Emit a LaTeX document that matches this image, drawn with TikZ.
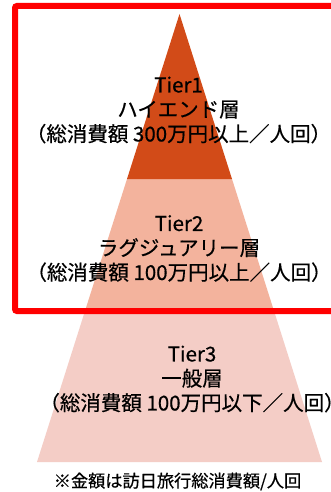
\documentclass[tikz,border=0pt]{standalone}
\usepackage{fontspec}
\setmainfont[FakeBold=0.5]{Noto Sans CJK JP}
\definecolor{tieronec}{HTML}{D24B18}
\definecolor{tiertwoc}{HTML}{F3B39D}
\definecolor{tierthreec}{HTML}{F4CDC6}
\definecolor{framered}{HTML}{FF0000}
\begin{document}
\begin{tikzpicture}[x=1pt,y=-1pt,
  tiertext/.style={align=center,font=\fontsize{20.5}{24.5}\selectfont,inner sep=0pt},
  notetext/.style={font=\fontsize{17.2}{20}\selectfont,inner sep=0pt}]
\useasboundingbox (0,0) rectangle (331,492);
\clip (0,0) rectangle (331,492);
\fill[white] (0,0) rectangle (331,492);
% pyramid
\fill[tierthreec] (85.3,310) -- (273.7,310) -- (322,462) -- (37,462) -- cycle;
\fill[tiertwoc] (127,179) -- (232,179) -- (273.7,310) -- (85.3,310) -- cycle;
\fill[tieronec] (179.5,14) -- (232,179) -- (127,179) -- cycle;
% frame
\draw[framered,line width=6pt,rounded corners=2pt] (15,6) rectangle (350,311);
% texts
\node[tiertext] (t1) at (178.5,110) {Tier1\\ハイエンド層\\（総消費額 300万円以上／人回）};
\node[tiertext] (t2) at (179,248.5) {Tier2\\ラグジュアリー層\\（総消費額 100万円以上／人回）};
\node[tiertext] (t3) at (192,379) {Tier3\\一般層\\（総消費額 100万円以下／人回）};
\node[notetext] (note) at (177.5,481.5) {※金額は訪日旅行総消費額/人回};
\end{tikzpicture}
\end{document}
